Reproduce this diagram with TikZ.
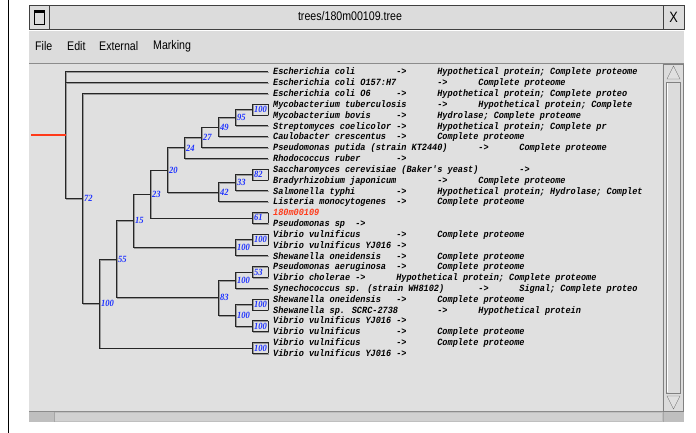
\documentclass[tikz,border=0pt]{standalone}
\usepackage{fontspec}
\setmainfont{Liberation Sans}
\newfontfamily\narrowfont{Liberation Sans}[FakeStretch=0.85]
\newfontfamily\leaffont{Liberation Mono}[FakeStretch=0.9]
\newfontfamily\bootfont{Liberation Serif}[FakeStretch=0.9]
\definecolor{winbg}{HTML}{DCDCDC}
\definecolor{canvasbg}{HTML}{E0E0E0}
\definecolor{bootblue}{HTML}{1E32FF}
\definecolor{queryred}{HTML}{FF3A1A}

\tikzset{
  branch/.style={draw=black!85, line width=0.8pt,
    preaction={draw=black!40, line width=0.8pt, transform canvas={shift={(0.7pt,-0.7pt)}}}},
  rootline/.style={draw=queryred, line width=1.2pt},
  leaf/.style={anchor=base west, inner sep=0pt,
    font=\leaffont\bfseries\itshape\fontsize{9.5}{10}\selectfont},
  boot/.style={anchor=west, inner sep=0pt, text=bootblue,
    font=\bootfont\bfseries\itshape\fontsize{9.5}{10}\selectfont},
  menu/.style={anchor=west, inner sep=0pt, font=\narrowfont\fontsize{12.5}{13}\selectfont},
  raised/.style={draw=black!50},
}

\begin{document}
\begin{tikzpicture}[x=1pt, y=-1pt]
  \useasboundingbox (0,0) rectangle (696,433);
  \fill[white] (0,0) rectangle (696,433);
  \draw[line width=0.8pt] (8,0) -- (8,433);

  % window
  \fill[winbg] (29,5) rectangle (684,422);
  \draw[black!75] (29,5.5) rectangle (684,29);
  \draw[black!75] (49,5.5) -- (49,29);
  \draw[black!75] (663,5.5) -- (663,29);
  \draw[line width=0.7pt] (34,10) rectangle (44,24);
  \fill (34,10) rectangle (44,13);
  \node[inner sep=0pt, font=\narrowfont\fontsize{12.5}{13}\selectfont] (title) at (350,16) {trees/180m00109.tree};
  \node[inner sep=0pt, font=\narrowfont\fontsize{15}{16}\selectfont] (close) at (673.5,17) {X};

  % menu bar
  \draw[white] (29,30.5) -- (684,30.5);
  \node[menu] (mfile) at (35,46) {File};
  \node[menu] (medit) at (67,46) {Edit};
  \node[menu] (mext) at (99,46) {External};
  \node[menu] (mmark) at (153,46) {Marking};

  % canvas and scroll bars
  \fill[canvasbg] (29,63) rectangle (662,411);
  \draw[black!45] (29,63.5) -- (684,63.5);
  \draw[black!45] (29,411.5) -- (684,411.5);
  \fill[black!25] (29,412) rectangle (684,422);
  \fill[black!18] (55,413) rectangle (662,421);
  \draw[black!35] (54,412) -- (54,422);
  \draw[black!35] (663,412) -- (663,422);
  \draw[raised] (663.5,64) rectangle (683.5,411);
  \draw[black!50, line width=0.8pt] (666.5,82) rectangle (680.5,393);
  \draw[white] (667.5,83) -- (667.5,392);
  \draw[black!55, fill=canvasbg] (667,79) -- (673.5,66) -- (680,79) -- cycle;
  \draw[black!55, fill=canvasbg] (667,396) -- (673.5,409) -- (680,396) -- cycle;

  % leaves: name and arrow
  \foreach \r/\nm/\ac in {
      1/{Escherichia coli}/24, 2/{Escherichia coli O157:H7}/32,
      3/{Escherichia coli O6}/24, 4/{Mycobacterium tuberculosis}/32,
      5/{Mycobacterium bovis}/24, 6/{Streptomyces coelicolor}/24,
      7/{Caulobacter crescentus}/24, 8/{Pseudomonas putida (strain KT2440)}/40,
      9/{Rhodococcus ruber}/24, 10/{Saccharomyces cerevisiae (Baker's yeast)}/48,
      11/{Bradyrhizobium japonicum}/32, 12/{Salmonella typhi}/24,
      13/{Listeria monocytogenes}/24, 15/{Pseudomonas sp}/16,
      16/{Vibrio vulnificus}/24, 17/{Vibrio vulnificus YJ016}/24,
      18/{Shewanella oneidensis}/24, 19/{Pseudomonas aeruginosa}/24,
      20/{Vibrio cholerae}/16, 21/{Synechococcus sp. (strain WH8102)}/40,
      22/{Shewanella oneidensis}/24, 23/{Shewanella sp. SCRC-2738}/32,
      24/{Vibrio vulnificus YJ016}/24, 25/{Vibrio vulnificus}/24,
      26/{Vibrio vulnificus}/24, 27/{Vibrio vulnificus YJ016}/24}{
    \pgfmathsetmacro\yy{71.7+10.83*(\r-1)}
    \coordinate (l\r) at (268,\yy);
    \node[leaf] (t\r) at (273,\yy+3.2) {\nm};
    \node[leaf] (a\r) at ({273+5.13*\ac},\yy+3.2) {->};
  }
  \coordinate (l14) at (268,212.5);
  \node[leaf, text=queryred] (t14) at (273,215.7) {180m00109};

  % leaves: descriptions
  \foreach \r/\dc/\ds in {
      1/32/{Hypothetical protein; Complete proteome}, 2/40/{Complete proteome},
      3/32/{Hypothetical protein; Complete proteo}, 4/40/{Hypothetical protein; Complete},
      5/32/{Hydrolase; Complete proteome}, 6/32/{Hypothetical protein; Complete pr},
      7/32/{Complete proteome}, 8/48/{Complete proteome},
      11/40/{Complete proteome}, 12/32/{Hypothetical protein; Hydrolase; Complet},
      13/32/{Complete proteome}, 16/32/{Complete proteome},
      18/32/{Complete proteome}, 19/32/{Complete proteome},
      20/24/{Hypothetical protein; Complete proteome}, 21/48/{Signal; Complete proteo},
      22/32/{Complete proteome}, 23/40/{Hypothetical protein},
      25/32/{Complete proteome}, 26/32/{Complete proteome}}
    \node[leaf] (d\r) at ({273+5.13*\dc},{71.7+10.83*(\r-1)+3.2}) {\ds};

  % inner nodes
  \coordinate (root) at (65.5,135.1);
  \coordinate (n72) at (82.5,198.5);
  \coordinate (n100) at (99.5,303.6);
  \coordinate (n55) at (116.5,259.3);
  \coordinate (n15) at (133.5,220.8);
  \coordinate (n23) at (150.5,194.0);
  \coordinate (n20) at (167.5,170.0);
  \coordinate (n24) at (184.5,147.9);
  \coordinate (n27) at (201.5,137.4);
  \coordinate (n49) at (218.5,127.2);
  \coordinate (n42) at (218.5,192.2);
  \coordinate (n83) at (218.5,297.8);
  \coordinate (n95) at (235.5,117.75);
  \coordinate (n33) at (235.5,182.7);
  \coordinate (n100a) at (235.5,247.7);
  \coordinate (n100b) at (235.5,280.2);
  \coordinate (n100c) at (235.5,315.4);
  \coordinate (c100) at (252.5,109.6);
  \coordinate (c82) at (252.5,174.6);
  \coordinate (c61) at (252.5,217.9);
  \coordinate (c100a) at (252.5,239.6);
  \coordinate (c53) at (252.5,272.0);
  \coordinate (c100b) at (252.5,304.6);
  \coordinate (c100c) at (252.5,326.2);
  \coordinate (c100d) at (252.5,347.9);
  \coordinate (stem) at (31,135.1);

  % branches
  \foreach \p/\c in {root/l1, root/l2, root/n72, n72/l3, n72/n100,
      n100/n55, n100/c100d, n55/n15, n55/n83, n15/n23, n15/n100a,
      n23/n20, n23/c61, n20/n24, n20/n42, n24/n27, n24/l9,
      n27/n49, n27/l8, n49/n95, n49/l7, n95/c100, n95/l6,
      c100/l4, c100/l5, n42/n33, n42/l13, n33/c82, n33/l12,
      c82/l10, c82/l11, c61/l14, c61/l15, n100a/c100a, n100a/l18,
      c100a/l16, c100a/l17, n83/n100b, n83/n100c, n100b/c53, n100b/l21,
      c53/l19, c53/l20, n100c/c100b, n100c/c100c, c100b/l22, c100b/l23,
      c100c/l24, c100c/l25, c100d/l26, c100d/l27}
    \draw[branch] (\p) |- (\c);
  % closing sides of the cherry boxes
  \foreach \a/\b in {l4/l5, l10/l11, l14/l15, l16/l17, l19/l20, l22/l23, l24/l25, l26/l27}
    \draw[branch] (\a) -- (\b);
  % root stem
  \draw[rootline] (stem) -- (root);

  % bootstrap values
  \foreach \n/\v in {n72/72, n100/100, n55/55, n15/15, n23/23, n20/20, n24/24,
      n27/27, n49/49, n42/42, n83/83, n95/95, n33/33, n100a/100, n100b/100,
      n100c/100, c100/100, c82/82, c61/61, c100a/100, c53/53, c100b/100,
      c100c/100, c100d/100}
    \node[boot] (b\n) at ([xshift=1.3pt]\n) {\v};
\end{tikzpicture}
\end{document}
